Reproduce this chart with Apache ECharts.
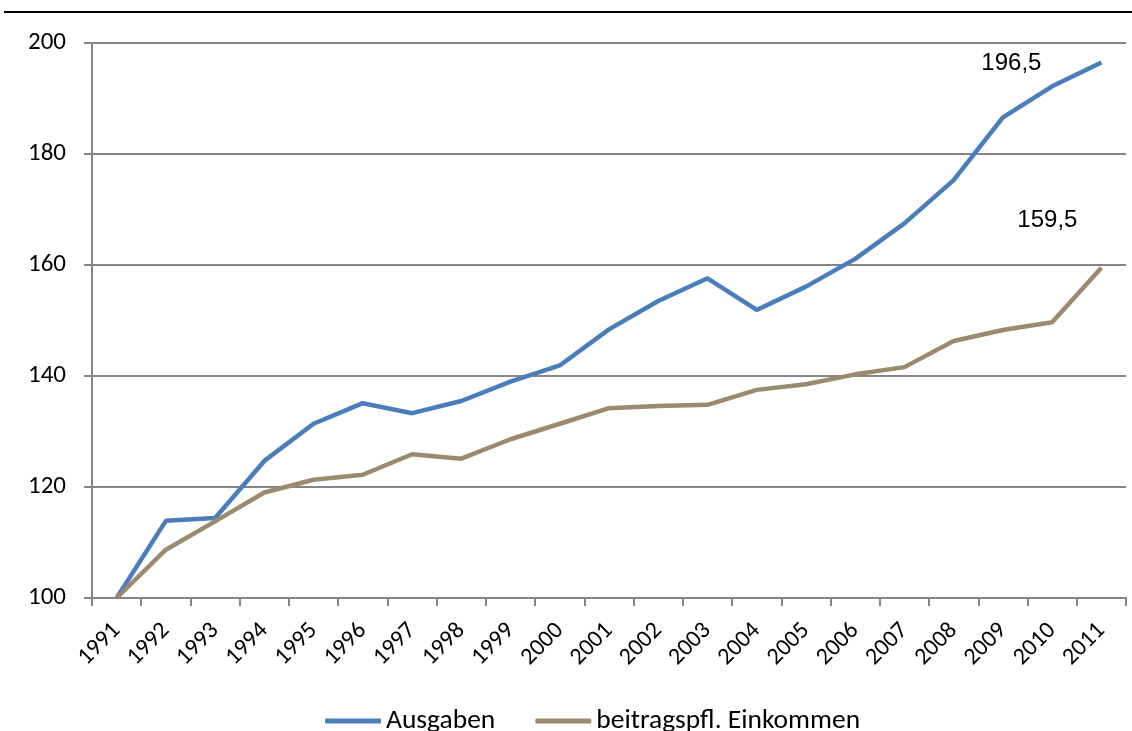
<!DOCTYPE html>
<html>
<head>
<meta charset="utf-8">
<style>
  html, body { margin: 0; padding: 0; background: #fff; }
  #rule { position: absolute; left: 4px; right: 0; top: 11px; height: 2px; background: #000; }
  #chart { width: 1132px; height: 731px; }
</style>
<script src="https://cdn.jsdelivr.net/npm/echarts@6/dist/echarts.min.js"></script>
</head>
<body>
<div id="rule"></div>
<div id="chart"></div>
<script>
// Index 1991 = 100
const years = ['1991','1992','1993','1994','1995','1996','1997','1998','1999','2000',
  '2001','2002','2003','2004','2005','2006','2007','2008','2009','2010','2011'];
const ausgaben = [100, 113.9, 114.4, 124.7, 131.4, 135.1, 133.3, 135.5, 139.0, 141.9,
  148.4, 153.5, 157.6, 151.9, 156.1, 161.1, 167.5, 175.3, 186.6, 192.2, 196.5];
const einkommen = [100, 108.7, 113.8, 119.0, 121.3, 122.2, 125.9, 125.1, 128.6, 131.4,
  134.2, 134.6, 134.8, 137.5, 138.5, 140.3, 141.6, 146.3, 148.3, 149.7, 159.5];
const yTicks = { min: 100, max: 200, step: 20 };

const axisFont = 'Carlito, Lato, sans-serif';
const gridGray = '#868686';

// value label for the final year, placed beside the line end
function endLabel(values, offset) {
  const i = values.length - 1;
  return {
    symbol: 'circle', symbolSize: 1, silent: true,
    itemStyle: { color: 'rgba(0,0,0,0)' },
    label: { show: true, position: 'inside', offset: offset,
      formatter: p => String(p.value).replace('.', ','),
      fontFamily: 'Liberation Sans, Arial, sans-serif', fontSize: 24, color: '#000' },
    data: [{ coord: [years[i], values[i]], value: values[i] }]
  };
}

const chart = echarts.init(document.getElementById('chart'));
chart.setOption({
  animation: false,
  grid: { left: 92, right: 6, top: 43, bottom: 133 },
  legend: {
    top: 702, left: 320, itemGap: 40, itemWidth: 56, itemHeight: 5,
    icon: 'roundRect',
    textStyle: { fontFamily: axisFont, fontSize: 27.5, color: '#000' },
    data: ['Ausgaben', 'beitragspfl. Einkommen']
  },
  xAxis: {
    type: 'category', data: years, boundaryGap: true,
    axisLine: { lineStyle: { color: gridGray, width: 2 } },
    axisTick: { show: true, length: 8, interval: 0, lineStyle: { color: gridGray, width: 2 } },
    axisLabel: { interval: 0, rotate: 45, margin: 29, fontFamily: axisFont, fontSize: 24, color: '#000' }
  },
  yAxis: {
    type: 'value', min: yTicks.min, max: yTicks.max, interval: yTicks.step,
    axisLine: { show: true, lineStyle: { color: gridGray, width: 2 } },
    axisTick: { show: true, length: 8, lineStyle: { color: gridGray, width: 2 } },
    splitLine: { lineStyle: { color: gridGray, width: 2 } },
    axisLabel: { margin: 26, fontFamily: axisFont, fontSize: 25, color: '#000' }
  },
  series: [
    { name: 'Ausgaben', type: 'line', data: ausgaben, symbol: 'none',
      color: '#4a7ebb', lineStyle: { width: 4.5, color: '#4a7ebb' },
      markPoint: endLabel(ausgaben, [-90, 1]) },
    { name: 'beitragspfl. Einkommen', type: 'line', data: einkommen, symbol: 'none',
      color: '#9b8a6f', lineStyle: { width: 4.5, color: '#9b8a6f' },
      markPoint: endLabel(einkommen, [-54, -47]) }
  ]
});
</script>
</body>
</html>
